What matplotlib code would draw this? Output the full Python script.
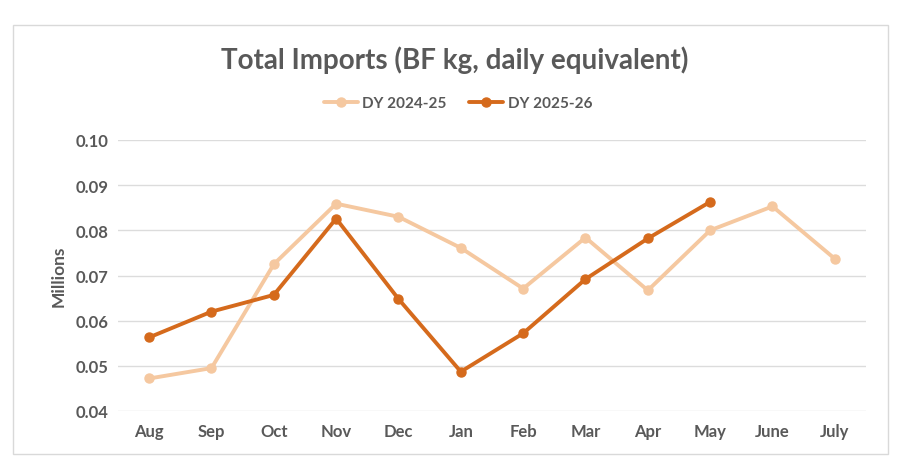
import matplotlib
matplotlib.use("Agg")
import matplotlib.pyplot as plt
from matplotlib.patches import Rectangle

months = ["Aug", "Sep", "Oct", "Nov", "Dec", "Jan", "Feb", "Mar", "Apr", "May", "June", "July"]
dy_2024_25 = [0.0472, 0.0495, 0.0725, 0.0859, 0.0830, 0.0761, 0.0671, 0.0784, 0.0667, 0.0800, 0.0853, 0.0737]
dy_2025_26 = [0.0563, 0.0620, 0.0657, 0.0826, 0.0648, 0.0487, 0.0572, 0.0692, 0.0782, 0.0863]
yticks = [0.04, 0.05, 0.06, 0.07, 0.08, 0.09, 0.10]

plt.rcParams['font.family'] = ['Lato', 'DejaVu Sans']
gray = "#595959"
light = "#F5C8A0"
dark = "#D56A1C"

fig = plt.figure(figsize=(9.12, 4.77), dpi=100)
fig.patches.append(Rectangle((13/912, 1-455/477), 875/912, 429/477, transform=fig.transFigure,
                             fill=False, edgecolor="#D9D9D9", linewidth=1.0))
ax = fig.add_axes([118/912, 1-412/477, 748/912, 271/477])

x = list(range(len(months)))
ax.plot(x, dy_2024_25, color=light, lw=2.8, marker='o', ms=6.5, label="DY 2024-25", solid_capstyle='round')
ax.plot(x[:len(dy_2025_26)], dy_2025_26, color=dark, lw=2.8, marker='o', ms=6.5, label="DY 2025-26", solid_capstyle='round')

ax.set_xlim(-0.5, len(months) - 0.5)
ax.set_ylim(0.04, 0.10)
ax.set_yticks(yticks)
ax.set_yticklabels([f"{v:.2f}" for v in yticks])
ax.set_xticks(x)
ax.set_xticklabels(months)
for lab in ax.get_xticklabels() + ax.get_yticklabels():
    lab.set_fontweight('bold')
    lab.set_color(gray)
    lab.set_fontsize(12)
ax.tick_params(axis='x', length=0, pad=9)
ax.tick_params(axis='y', length=0, pad=7)
ax.grid(axis='y', color="#DCDCDC", lw=1)
ax.set_axisbelow(True)
for s in ax.spines.values():
    s.set_visible(False)
ax.set_ylabel("Millions", fontsize=12.5, fontweight='bold', color=gray, labelpad=6)

fig.text(455/912, 1-60/477, "Total Imports (BF kg, daily equivalent)", ha='center', va='center',
         fontsize=20, fontweight='bold', color=gray)
leg = fig.legend(loc='center', bbox_to_anchor=(458/912, 1-104/477), ncol=2, frameon=False,
                 fontsize=11, handlelength=2.2, columnspacing=1.5, handletextpad=0.3)
for t in leg.get_texts():
    t.set_color(gray)
    t.set_fontweight('bold')

fig.savefig("out.png", dpi=100)
